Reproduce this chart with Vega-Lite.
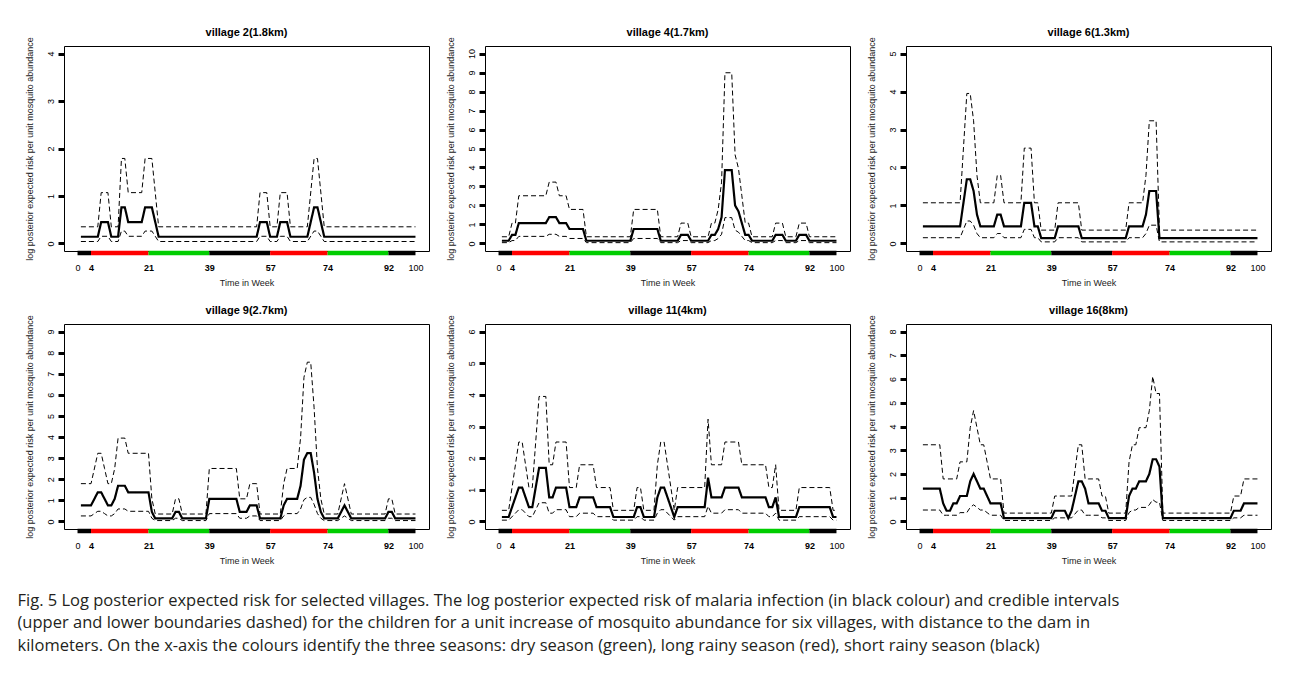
{
  "$schema": "https://vega.github.io/schema/vega-lite/v6.json",
  "padding": {"left": 17, "top": 26, "right": 10, "bottom": 5},
  "background": "white",
  "datasets": {
    "seasons": [
      {"s0": 0, "s1": 4, "season": "short rainy"},
      {"s0": 4, "s1": 21, "season": "long rainy"},
      {"s0": 21, "s1": 39, "season": "dry"},
      {"s0": 39, "s1": 57, "season": "short rainy"},
      {"s0": 57, "s1": 74, "season": "long rainy"},
      {"s0": 74, "s1": 92, "season": "dry"},
      {"s0": 92, "s1": 100, "season": "short rainy"}
    ],
    "v2": [
      {"t": 1, "m": 0.14, "u": 0.35, "l": 0.04},
      {"t": 6, "m": 0.14, "u": 0.35, "l": 0.04},
      {"t": 7, "m": 0.45, "u": 1.07, "l": 0.15},
      {"t": 9, "m": 0.45, "u": 1.07, "l": 0.15},
      {"t": 10, "m": 0.14, "u": 0.35, "l": 0.04},
      {"t": 12, "m": 0.14, "u": 0.35, "l": 0.04},
      {"t": 13, "m": 0.76, "u": 1.79, "l": 0.26},
      {"t": 14, "m": 0.76, "u": 1.79, "l": 0.26},
      {"t": 15, "m": 0.45, "u": 1.07, "l": 0.15},
      {"t": 19, "m": 0.45, "u": 1.07, "l": 0.15},
      {"t": 20, "m": 0.76, "u": 1.79, "l": 0.26},
      {"t": 22, "m": 0.76, "u": 1.79, "l": 0.26},
      {"t": 24, "m": 0.14, "u": 0.35, "l": 0.04},
      {"t": 53, "m": 0.14, "u": 0.35, "l": 0.04},
      {"t": 54, "m": 0.45, "u": 1.07, "l": 0.15},
      {"t": 56, "m": 0.45, "u": 1.07, "l": 0.15},
      {"t": 57, "m": 0.14, "u": 0.35, "l": 0.04},
      {"t": 59, "m": 0.14, "u": 0.35, "l": 0.04},
      {"t": 60, "m": 0.45, "u": 1.07, "l": 0.15},
      {"t": 62, "m": 0.45, "u": 1.07, "l": 0.15},
      {"t": 63, "m": 0.14, "u": 0.35, "l": 0.04},
      {"t": 68, "m": 0.14, "u": 0.35, "l": 0.04},
      {"t": 70, "m": 0.76, "u": 1.79, "l": 0.26},
      {"t": 71, "m": 0.76, "u": 1.79, "l": 0.26},
      {"t": 73, "m": 0.14, "u": 0.35, "l": 0.04},
      {"t": 100, "m": 0.14, "u": 0.35, "l": 0.04}
    ],
    "v4": [
      {"t": 1, "m": 0.14, "u": 0.35, "l": 0.04},
      {"t": 3, "m": 0.14, "u": 0.35, "l": 0.04},
      {"t": 4, "m": 0.45, "u": 1.07, "l": 0.15},
      {"t": 5, "m": 0.45, "u": 1.07, "l": 0.15},
      {"t": 6, "m": 1.07, "u": 2.51, "l": 0.37},
      {"t": 14, "m": 1.07, "u": 2.51, "l": 0.37},
      {"t": 15, "m": 1.38, "u": 3.23, "l": 0.48},
      {"t": 17, "m": 1.38, "u": 3.23, "l": 0.48},
      {"t": 18, "m": 1.07, "u": 2.51, "l": 0.37},
      {"t": 20, "m": 1.07, "u": 2.51, "l": 0.37},
      {"t": 21, "m": 0.76, "u": 1.79, "l": 0.26},
      {"t": 25, "m": 0.76, "u": 1.79, "l": 0.26},
      {"t": 26, "m": 0.14, "u": 0.35, "l": 0.04},
      {"t": 39, "m": 0.14, "u": 0.35, "l": 0.04},
      {"t": 40, "m": 0.76, "u": 1.79, "l": 0.26},
      {"t": 47, "m": 0.76, "u": 1.79, "l": 0.26},
      {"t": 48, "m": 0.14, "u": 0.35, "l": 0.04},
      {"t": 53, "m": 0.14, "u": 0.35, "l": 0.04},
      {"t": 54, "m": 0.45, "u": 1.07, "l": 0.15},
      {"t": 56, "m": 0.45, "u": 1.07, "l": 0.15},
      {"t": 57, "m": 0.14, "u": 0.35, "l": 0.04},
      {"t": 62, "m": 0.14, "u": 0.35, "l": 0.04},
      {"t": 63, "m": 0.45, "u": 1.07, "l": 0.15},
      {"t": 64, "m": 0.45, "u": 1.07, "l": 0.15},
      {"t": 65, "m": 0.76, "u": 1.79, "l": 0.26},
      {"t": 66, "m": 1.38, "u": 3.23, "l": 0.48},
      {"t": 67, "m": 3.86, "u": 8.99, "l": 1.36},
      {"t": 69, "m": 3.86, "u": 8.99, "l": 1.36},
      {"t": 70, "m": 2.0, "u": 4.67, "l": 0.7},
      {"t": 71, "m": 1.69, "u": 3.95, "l": 0.59},
      {"t": 72, "m": 1.07, "u": 2.51, "l": 0.37},
      {"t": 73, "m": 0.45, "u": 1.07, "l": 0.15},
      {"t": 74, "m": 0.45, "u": 1.07, "l": 0.15},
      {"t": 75, "m": 0.14, "u": 0.35, "l": 0.04},
      {"t": 81, "m": 0.14, "u": 0.35, "l": 0.04},
      {"t": 82, "m": 0.45, "u": 1.07, "l": 0.15},
      {"t": 84, "m": 0.45, "u": 1.07, "l": 0.15},
      {"t": 85, "m": 0.14, "u": 0.35, "l": 0.04},
      {"t": 88, "m": 0.14, "u": 0.35, "l": 0.04},
      {"t": 89, "m": 0.45, "u": 1.07, "l": 0.15},
      {"t": 91, "m": 0.45, "u": 1.07, "l": 0.15},
      {"t": 92, "m": 0.14, "u": 0.35, "l": 0.04},
      {"t": 100, "m": 0.14, "u": 0.35, "l": 0.04}
    ],
    "v6": [
      {"t": 1, "m": 0.45, "u": 1.07, "l": 0.15},
      {"t": 12, "m": 0.45, "u": 1.07, "l": 0.15},
      {"t": 14, "m": 1.69, "u": 3.95, "l": 0.59},
      {"t": 15, "m": 1.69, "u": 3.95, "l": 0.59},
      {"t": 16, "m": 1.38, "u": 3.23, "l": 0.48},
      {"t": 17, "m": 0.76, "u": 1.79, "l": 0.26},
      {"t": 18, "m": 0.45, "u": 1.07, "l": 0.15},
      {"t": 22, "m": 0.45, "u": 1.07, "l": 0.15},
      {"t": 23, "m": 0.76, "u": 1.79, "l": 0.26},
      {"t": 24, "m": 0.76, "u": 1.79, "l": 0.26},
      {"t": 25, "m": 0.45, "u": 1.07, "l": 0.15},
      {"t": 30, "m": 0.45, "u": 1.07, "l": 0.15},
      {"t": 31, "m": 1.07, "u": 2.51, "l": 0.37},
      {"t": 33, "m": 1.07, "u": 2.51, "l": 0.37},
      {"t": 34, "m": 0.45, "u": 1.07, "l": 0.15},
      {"t": 35, "m": 0.45, "u": 1.07, "l": 0.15},
      {"t": 36, "m": 0.14, "u": 0.35, "l": 0.04},
      {"t": 40, "m": 0.14, "u": 0.35, "l": 0.04},
      {"t": 41, "m": 0.45, "u": 1.07, "l": 0.15},
      {"t": 47, "m": 0.45, "u": 1.07, "l": 0.15},
      {"t": 48, "m": 0.14, "u": 0.35, "l": 0.04},
      {"t": 61, "m": 0.14, "u": 0.35, "l": 0.04},
      {"t": 62, "m": 0.45, "u": 1.07, "l": 0.15},
      {"t": 66, "m": 0.45, "u": 1.07, "l": 0.15},
      {"t": 67, "m": 0.76, "u": 1.79, "l": 0.26},
      {"t": 68, "m": 1.38, "u": 3.23, "l": 0.48},
      {"t": 70, "m": 1.38, "u": 3.23, "l": 0.48},
      {"t": 71, "m": 0.14, "u": 0.35, "l": 0.04},
      {"t": 100, "m": 0.14, "u": 0.35, "l": 0.04}
    ],
    "v9": [
      {"t": 1, "m": 0.76, "u": 1.79, "l": 0.26},
      {"t": 4, "m": 0.76, "u": 1.79, "l": 0.26},
      {"t": 6, "m": 1.38, "u": 3.23, "l": 0.48},
      {"t": 7, "m": 1.38, "u": 3.23, "l": 0.48},
      {"t": 8, "m": 1.07, "u": 2.51, "l": 0.37},
      {"t": 9, "m": 0.76, "u": 1.79, "l": 0.26},
      {"t": 10, "m": 0.76, "u": 1.79, "l": 0.26},
      {"t": 11, "m": 1.07, "u": 2.51, "l": 0.37},
      {"t": 12, "m": 1.69, "u": 3.95, "l": 0.59},
      {"t": 14, "m": 1.69, "u": 3.95, "l": 0.59},
      {"t": 15, "m": 1.38, "u": 3.23, "l": 0.48},
      {"t": 21, "m": 1.38, "u": 3.23, "l": 0.48},
      {"t": 22, "m": 0.45, "u": 1.07, "l": 0.15},
      {"t": 23, "m": 0.14, "u": 0.35, "l": 0.04},
      {"t": 28, "m": 0.14, "u": 0.35, "l": 0.04},
      {"t": 29, "m": 0.45, "u": 1.07, "l": 0.15},
      {"t": 30, "m": 0.45, "u": 1.07, "l": 0.15},
      {"t": 31, "m": 0.14, "u": 0.35, "l": 0.04},
      {"t": 38, "m": 0.14, "u": 0.35, "l": 0.04},
      {"t": 39, "m": 1.07, "u": 2.51, "l": 0.37},
      {"t": 47, "m": 1.07, "u": 2.51, "l": 0.37},
      {"t": 48, "m": 0.45, "u": 1.07, "l": 0.15},
      {"t": 50, "m": 0.45, "u": 1.07, "l": 0.15},
      {"t": 51, "m": 0.76, "u": 1.79, "l": 0.26},
      {"t": 53, "m": 0.76, "u": 1.79, "l": 0.26},
      {"t": 54, "m": 0.14, "u": 0.35, "l": 0.04},
      {"t": 60, "m": 0.14, "u": 0.35, "l": 0.04},
      {"t": 61, "m": 0.76, "u": 1.79, "l": 0.26},
      {"t": 62, "m": 1.07, "u": 2.51, "l": 0.37},
      {"t": 65, "m": 1.07, "u": 2.51, "l": 0.37},
      {"t": 66, "m": 1.69, "u": 3.95, "l": 0.59},
      {"t": 67, "m": 2.93, "u": 6.83, "l": 1.03},
      {"t": 68, "m": 3.24, "u": 7.55, "l": 1.14},
      {"t": 69, "m": 3.24, "u": 7.55, "l": 1.14},
      {"t": 70, "m": 2.31, "u": 5.39, "l": 0.81},
      {"t": 71, "m": 1.07, "u": 2.51, "l": 0.37},
      {"t": 72, "m": 0.45, "u": 1.07, "l": 0.15},
      {"t": 73, "m": 0.14, "u": 0.35, "l": 0.04},
      {"t": 77, "m": 0.14, "u": 0.35, "l": 0.04},
      {"t": 79, "m": 0.76, "u": 1.79, "l": 0.26},
      {"t": 81, "m": 0.14, "u": 0.35, "l": 0.04},
      {"t": 91, "m": 0.14, "u": 0.35, "l": 0.04},
      {"t": 92, "m": 0.45, "u": 1.07, "l": 0.15},
      {"t": 93, "m": 0.45, "u": 1.07, "l": 0.15},
      {"t": 94, "m": 0.14, "u": 0.35, "l": 0.04},
      {"t": 100, "m": 0.14, "u": 0.35, "l": 0.04}
    ],
    "v11": [
      {"t": 1, "m": 0.14, "u": 0.35, "l": 0.04},
      {"t": 3, "m": 0.14, "u": 0.35, "l": 0.04},
      {"t": 6, "m": 1.07, "u": 2.51, "l": 0.37},
      {"t": 7, "m": 1.07, "u": 2.51, "l": 0.37},
      {"t": 9, "m": 0.45, "u": 1.07, "l": 0.15},
      {"t": 10, "m": 0.45, "u": 1.07, "l": 0.15},
      {"t": 12, "m": 1.69, "u": 3.95, "l": 0.59},
      {"t": 14, "m": 1.69, "u": 3.95, "l": 0.59},
      {"t": 15, "m": 0.76, "u": 1.79, "l": 0.26},
      {"t": 16, "m": 0.76, "u": 1.79, "l": 0.26},
      {"t": 17, "m": 1.07, "u": 2.51, "l": 0.37},
      {"t": 20, "m": 1.07, "u": 2.51, "l": 0.37},
      {"t": 21, "m": 0.45, "u": 1.07, "l": 0.15},
      {"t": 23, "m": 0.45, "u": 1.07, "l": 0.15},
      {"t": 24, "m": 0.76, "u": 1.79, "l": 0.26},
      {"t": 28, "m": 0.76, "u": 1.79, "l": 0.26},
      {"t": 29, "m": 0.45, "u": 1.07, "l": 0.15},
      {"t": 33, "m": 0.45, "u": 1.07, "l": 0.15},
      {"t": 34, "m": 0.14, "u": 0.35, "l": 0.04},
      {"t": 40, "m": 0.14, "u": 0.35, "l": 0.04},
      {"t": 41, "m": 0.45, "u": 1.07, "l": 0.15},
      {"t": 42, "m": 0.45, "u": 1.07, "l": 0.15},
      {"t": 43, "m": 0.14, "u": 0.35, "l": 0.04},
      {"t": 46, "m": 0.14, "u": 0.35, "l": 0.04},
      {"t": 47, "m": 0.76, "u": 1.79, "l": 0.26},
      {"t": 48, "m": 1.07, "u": 2.51, "l": 0.37},
      {"t": 49, "m": 1.07, "u": 2.51, "l": 0.37},
      {"t": 52, "m": 0.14, "u": 0.35, "l": 0.04},
      {"t": 53, "m": 0.45, "u": 1.07, "l": 0.15},
      {"t": 61, "m": 0.45, "u": 1.07, "l": 0.15},
      {"t": 62, "m": 1.38, "u": 3.23, "l": 0.48},
      {"t": 63, "m": 0.76, "u": 1.79, "l": 0.26},
      {"t": 66, "m": 0.76, "u": 1.79, "l": 0.26},
      {"t": 67, "m": 1.07, "u": 2.51, "l": 0.37},
      {"t": 71, "m": 1.07, "u": 2.51, "l": 0.37},
      {"t": 72, "m": 0.76, "u": 1.79, "l": 0.26},
      {"t": 79, "m": 0.76, "u": 1.79, "l": 0.26},
      {"t": 80, "m": 0.45, "u": 1.07, "l": 0.15},
      {"t": 81, "m": 0.45, "u": 1.07, "l": 0.15},
      {"t": 82, "m": 0.76, "u": 1.79, "l": 0.26},
      {"t": 83, "m": 0.14, "u": 0.35, "l": 0.04},
      {"t": 88, "m": 0.14, "u": 0.35, "l": 0.04},
      {"t": 89, "m": 0.45, "u": 1.07, "l": 0.15},
      {"t": 98, "m": 0.45, "u": 1.07, "l": 0.15},
      {"t": 99, "m": 0.14, "u": 0.35, "l": 0.04},
      {"t": 100, "m": 0.14, "u": 0.35, "l": 0.04}
    ],
    "v16": [
      {"t": 1, "m": 1.38, "u": 3.23, "l": 0.48},
      {"t": 6, "m": 1.38, "u": 3.23, "l": 0.48},
      {"t": 7, "m": 0.76, "u": 1.79, "l": 0.26},
      {"t": 8, "m": 0.45, "u": 1.79, "l": 0.26},
      {"t": 9, "m": 0.45, "u": 1.79, "l": 0.26},
      {"t": 10, "m": 0.76, "u": 1.79, "l": 0.26},
      {"t": 11, "m": 0.76, "u": 1.79, "l": 0.26},
      {"t": 12, "m": 1.07, "u": 2.51, "l": 0.37},
      {"t": 14, "m": 1.07, "u": 2.51, "l": 0.37},
      {"t": 15, "m": 1.69, "u": 3.95, "l": 0.59},
      {"t": 16, "m": 2.0, "u": 4.67, "l": 0.7},
      {"t": 17, "m": 1.69, "u": 3.95, "l": 0.59},
      {"t": 18, "m": 1.38, "u": 3.23, "l": 0.48},
      {"t": 19, "m": 1.38, "u": 3.23, "l": 0.48},
      {"t": 20, "m": 1.07, "u": 2.51, "l": 0.37},
      {"t": 21, "m": 0.76, "u": 1.79, "l": 0.26},
      {"t": 24, "m": 0.76, "u": 1.79, "l": 0.26},
      {"t": 25, "m": 0.14, "u": 0.35, "l": 0.04},
      {"t": 39, "m": 0.14, "u": 0.35, "l": 0.04},
      {"t": 40, "m": 0.45, "u": 1.07, "l": 0.15},
      {"t": 43, "m": 0.45, "u": 1.07, "l": 0.15},
      {"t": 44, "m": 0.14, "u": 1.07, "l": 0.15},
      {"t": 45, "m": 0.45, "u": 1.07, "l": 0.15},
      {"t": 47, "m": 1.69, "u": 3.23, "l": 0.48},
      {"t": 48, "m": 1.69, "u": 3.23, "l": 0.48},
      {"t": 49, "m": 1.38, "u": 1.79, "l": 0.26},
      {"t": 50, "m": 0.76, "u": 1.79, "l": 0.26},
      {"t": 53, "m": 0.76, "u": 1.79, "l": 0.26},
      {"t": 54, "m": 0.45, "u": 1.07, "l": 0.15},
      {"t": 55, "m": 0.45, "u": 1.07, "l": 0.15},
      {"t": 56, "m": 0.14, "u": 0.35, "l": 0.04},
      {"t": 61, "m": 0.14, "u": 0.35, "l": 0.04},
      {"t": 62, "m": 1.07, "u": 2.51, "l": 0.37},
      {"t": 63, "m": 1.38, "u": 3.23, "l": 0.48},
      {"t": 64, "m": 1.38, "u": 3.23, "l": 0.48},
      {"t": 65, "m": 1.69, "u": 3.95, "l": 0.59},
      {"t": 67, "m": 1.69, "u": 3.95, "l": 0.59},
      {"t": 68, "m": 2.0, "u": 4.67, "l": 0.7},
      {"t": 69, "m": 2.62, "u": 6.11, "l": 0.92},
      {"t": 70, "m": 2.62, "u": 5.39, "l": 0.81},
      {"t": 71, "m": 2.31, "u": 5.39, "l": 0.81},
      {"t": 72, "m": 0.14, "u": 0.35, "l": 0.04},
      {"t": 92, "m": 0.14, "u": 0.35, "l": 0.04},
      {"t": 93, "m": 0.45, "u": 1.07, "l": 0.15},
      {"t": 95, "m": 0.45, "u": 1.07, "l": 0.15},
      {"t": 96, "m": 0.76, "u": 1.79, "l": 0.26},
      {"t": 100, "m": 0.76, "u": 1.79, "l": 0.26}
    ]
  },
  "title": {
    "text": [
      "Fig. 5 Log posterior expected risk for selected villages. The log posterior expected risk of malaria infection (in black colour) and credible intervals",
      "(upper and lower boundaries dashed) for the children for a unit increase of mosquito abundance for six villages, with distance to the dam in",
      "kilometers. On the x-axis the colours identify the three seasons: dry season (green), long rainy season (red), short rainy season (black)"
    ],
    "orient": "bottom",
    "anchor": "start",
    "frame": "bounds",
    "font": "Open Sans",
    "fontSize": 16.5,
    "fontWeight": "normal",
    "color": "#231f20",
    "lineHeight": 22.5,
    "offset": 27,
    "dx": -7
  },
  "columns": 3,
  "spacing": {"row": 73, "column": 56},
  "bounds": "flush",
  "concat": [
    {
      "title": "village 2(1.8km)",
      "width": 365,
      "height": 205,
      "layer": [
        {
          "data": {"name": "v2"},
          "transform": [{"fold": ["u", "l", "m"], "as": ["s", "val"]}],
          "mark": {"type": "line", "color": "black"},
          "encoding": {
            "x": {"field": "t", "type": "quantitative", "scale": {"domain": [-4, 104], "nice": false, "zero": false},
              "axis": {"values": [0, 4, 21, 39, 57, 74, 92, 100], "format": "d", "tickCount": 20, "title": "Time in Week", "labelOverlap": false, "labelFontWeight": {"condition": {"test": "datum.value == 0 || datum.value == 100", "value": "normal"}, "value": "bold"}}},
            "y": {"field": "val", "type": "quantitative", "scale": {"domain": [-0.16, 4.16], "nice": false, "zero": false},
              "axis": {"values": [0, 1, 2, 3, 4], "format": "d", "tickCount": 20, "labelOverlap": false, "title": "log posterior expected risk per unit mosquito abundance"}},
            "detail": {"field": "s"},
            "strokeWidth": {"condition": {"test": "datum.s === 'm'", "value": 2.2}, "value": 1},
            "strokeDash": {"condition": {"test": "datum.s === 'm'", "value": [1, 0]}, "value": [5, 3]}
          }
        },
        {
          "data": {"name": "seasons"},
          "mark": {"type": "rule", "strokeWidth": 4.5, "yOffset": 2},
          "encoding": {
            "x": {"field": "s0", "type": "quantitative"},
            "x2": {"field": "s1"},
            "y": {"datum": -0.16},
            "color": {"field": "season", "type": "nominal", "scale": {"domain": ["short rainy", "long rainy", "dry"], "range": ["#000000", "#ff0000", "#00cd00"]}, "legend": null}
          }
        }
      ]
    },
    {
      "title": "village 4(1.7km)",
      "width": 365,
      "height": 205,
      "layer": [
        {
          "data": {"name": "v4"},
          "transform": [{"fold": ["u", "l", "m"], "as": ["s", "val"]}],
          "mark": {"type": "line", "color": "black"},
          "encoding": {
            "x": {"field": "t", "type": "quantitative", "scale": {"domain": [-4, 104], "nice": false, "zero": false},
              "axis": {"values": [0, 4, 21, 39, 57, 74, 92, 100], "format": "d", "tickCount": 20, "title": "Time in Week", "labelOverlap": false, "labelFontWeight": {"condition": {"test": "datum.value == 0 || datum.value == 100", "value": "normal"}, "value": "bold"}}},
            "y": {"field": "val", "type": "quantitative", "scale": {"domain": [-0.4, 10.4], "nice": false, "zero": false},
              "axis": {"values": [0, 1, 2, 3, 4, 5, 6, 7, 8, 9, 10], "format": "d", "tickCount": 20, "labelOverlap": false, "title": "log posterior expected risk per unit mosquito abundance"}},
            "detail": {"field": "s"},
            "strokeWidth": {"condition": {"test": "datum.s === 'm'", "value": 2.2}, "value": 1},
            "strokeDash": {"condition": {"test": "datum.s === 'm'", "value": [1, 0]}, "value": [5, 3]}
          }
        },
        {
          "data": {"name": "seasons"},
          "mark": {"type": "rule", "strokeWidth": 4.5, "yOffset": 2},
          "encoding": {
            "x": {"field": "s0", "type": "quantitative"},
            "x2": {"field": "s1"},
            "y": {"datum": -0.4},
            "color": {"field": "season", "type": "nominal", "scale": {"domain": ["short rainy", "long rainy", "dry"], "range": ["#000000", "#ff0000", "#00cd00"]}, "legend": null}
          }
        }
      ]
    },
    {
      "title": "village 6(1.3km)",
      "width": 365,
      "height": 205,
      "layer": [
        {
          "data": {"name": "v6"},
          "transform": [{"fold": ["u", "l", "m"], "as": ["s", "val"]}],
          "mark": {"type": "line", "color": "black"},
          "encoding": {
            "x": {"field": "t", "type": "quantitative", "scale": {"domain": [-4, 104], "nice": false, "zero": false},
              "axis": {"values": [0, 4, 21, 39, 57, 74, 92, 100], "format": "d", "tickCount": 20, "title": "Time in Week", "labelOverlap": false, "labelFontWeight": {"condition": {"test": "datum.value == 0 || datum.value == 100", "value": "normal"}, "value": "bold"}}},
            "y": {"field": "val", "type": "quantitative", "scale": {"domain": [-0.2, 5.2], "nice": false, "zero": false},
              "axis": {"values": [0, 1, 2, 3, 4, 5], "format": "d", "tickCount": 20, "labelOverlap": false, "title": "log posterior expected risk per unit mosquito abundance"}},
            "detail": {"field": "s"},
            "strokeWidth": {"condition": {"test": "datum.s === 'm'", "value": 2.2}, "value": 1},
            "strokeDash": {"condition": {"test": "datum.s === 'm'", "value": [1, 0]}, "value": [5, 3]}
          }
        },
        {
          "data": {"name": "seasons"},
          "mark": {"type": "rule", "strokeWidth": 4.5, "yOffset": 2},
          "encoding": {
            "x": {"field": "s0", "type": "quantitative"},
            "x2": {"field": "s1"},
            "y": {"datum": -0.2},
            "color": {"field": "season", "type": "nominal", "scale": {"domain": ["short rainy", "long rainy", "dry"], "range": ["#000000", "#ff0000", "#00cd00"]}, "legend": null}
          }
        }
      ]
    },
    {
      "title": "village 9(2.7km)",
      "width": 365,
      "height": 205,
      "layer": [
        {
          "data": {"name": "v9"},
          "transform": [{"fold": ["u", "l", "m"], "as": ["s", "val"]}],
          "mark": {"type": "line", "color": "black"},
          "encoding": {
            "x": {"field": "t", "type": "quantitative", "scale": {"domain": [-4, 104], "nice": false, "zero": false},
              "axis": {"values": [0, 4, 21, 39, 57, 74, 92, 100], "format": "d", "tickCount": 20, "title": "Time in Week", "labelOverlap": false, "labelFontWeight": {"condition": {"test": "datum.value == 0 || datum.value == 100", "value": "normal"}, "value": "bold"}}},
            "y": {"field": "val", "type": "quantitative", "scale": {"domain": [-0.36, 9.36], "nice": false, "zero": false},
              "axis": {"values": [0, 1, 2, 3, 4, 5, 6, 7, 8, 9], "format": "d", "tickCount": 20, "labelOverlap": false, "title": "log posterior expected risk per unit mosquito abundance"}},
            "detail": {"field": "s"},
            "strokeWidth": {"condition": {"test": "datum.s === 'm'", "value": 2.2}, "value": 1},
            "strokeDash": {"condition": {"test": "datum.s === 'm'", "value": [1, 0]}, "value": [5, 3]}
          }
        },
        {
          "data": {"name": "seasons"},
          "mark": {"type": "rule", "strokeWidth": 4.5, "yOffset": 2},
          "encoding": {
            "x": {"field": "s0", "type": "quantitative"},
            "x2": {"field": "s1"},
            "y": {"datum": -0.36},
            "color": {"field": "season", "type": "nominal", "scale": {"domain": ["short rainy", "long rainy", "dry"], "range": ["#000000", "#ff0000", "#00cd00"]}, "legend": null}
          }
        }
      ]
    },
    {
      "title": "village 11(4km)",
      "width": 365,
      "height": 205,
      "layer": [
        {
          "data": {"name": "v11"},
          "transform": [{"fold": ["u", "l", "m"], "as": ["s", "val"]}],
          "mark": {"type": "line", "color": "black"},
          "encoding": {
            "x": {"field": "t", "type": "quantitative", "scale": {"domain": [-4, 104], "nice": false, "zero": false},
              "axis": {"values": [0, 4, 21, 39, 57, 74, 92, 100], "format": "d", "tickCount": 20, "title": "Time in Week", "labelOverlap": false, "labelFontWeight": {"condition": {"test": "datum.value == 0 || datum.value == 100", "value": "normal"}, "value": "bold"}}},
            "y": {"field": "val", "type": "quantitative", "scale": {"domain": [-0.24, 6.24], "nice": false, "zero": false},
              "axis": {"values": [0, 1, 2, 3, 4, 5, 6], "format": "d", "tickCount": 20, "labelOverlap": false, "title": "log posterior expected risk per unit mosquito abundance"}},
            "detail": {"field": "s"},
            "strokeWidth": {"condition": {"test": "datum.s === 'm'", "value": 2.2}, "value": 1},
            "strokeDash": {"condition": {"test": "datum.s === 'm'", "value": [1, 0]}, "value": [5, 3]}
          }
        },
        {
          "data": {"name": "seasons"},
          "mark": {"type": "rule", "strokeWidth": 4.5, "yOffset": 2},
          "encoding": {
            "x": {"field": "s0", "type": "quantitative"},
            "x2": {"field": "s1"},
            "y": {"datum": -0.24},
            "color": {"field": "season", "type": "nominal", "scale": {"domain": ["short rainy", "long rainy", "dry"], "range": ["#000000", "#ff0000", "#00cd00"]}, "legend": null}
          }
        }
      ]
    },
    {
      "title": "village 16(8km)",
      "width": 365,
      "height": 205,
      "layer": [
        {
          "data": {"name": "v16"},
          "transform": [{"fold": ["u", "l", "m"], "as": ["s", "val"]}],
          "mark": {"type": "line", "color": "black"},
          "encoding": {
            "x": {"field": "t", "type": "quantitative", "scale": {"domain": [-4, 104], "nice": false, "zero": false},
              "axis": {"values": [0, 4, 21, 39, 57, 74, 92, 100], "format": "d", "tickCount": 20, "title": "Time in Week", "labelOverlap": false, "labelFontWeight": {"condition": {"test": "datum.value == 0 || datum.value == 100", "value": "normal"}, "value": "bold"}}},
            "y": {"field": "val", "type": "quantitative", "scale": {"domain": [-0.32, 8.32], "nice": false, "zero": false},
              "axis": {"values": [0, 1, 2, 3, 4, 5, 6, 7, 8], "format": "d", "tickCount": 20, "labelOverlap": false, "title": "log posterior expected risk per unit mosquito abundance"}},
            "detail": {"field": "s"},
            "strokeWidth": {"condition": {"test": "datum.s === 'm'", "value": 2.2}, "value": 1},
            "strokeDash": {"condition": {"test": "datum.s === 'm'", "value": [1, 0]}, "value": [5, 3]}
          }
        },
        {
          "data": {"name": "seasons"},
          "mark": {"type": "rule", "strokeWidth": 4.5, "yOffset": 2},
          "encoding": {
            "x": {"field": "s0", "type": "quantitative"},
            "x2": {"field": "s1"},
            "y": {"datum": -0.32},
            "color": {"field": "season", "type": "nominal", "scale": {"domain": ["short rainy", "long rainy", "dry"], "range": ["#000000", "#ff0000", "#00cd00"]}, "legend": null}
          }
        }
      ]
    }
  ],
  "config": {
    "font": "Liberation Sans",
    "view": {"stroke": "black", "strokeWidth": 1},
    "axis": {"grid": false, "labelFont": "Liberation Sans", "titleFont": "Liberation Sans", "labelFontSize": 9, "titleFontSize": 9, "titleFontWeight": "normal", "labelColor": "black", "titleColor": "#222222", "labelFlush": false, "labelOverlap": false},
    "axisX": {"domain": false, "ticks": false, "labelPadding": 12, "titlePadding": 6},
    "axisY": {"domain": false, "tickSize": 6, "tickWidth": 3, "tickColor": "black", "labelAngle": 270, "labelAlign": "center", "labelBaseline": "alphabetic", "labelPadding": 5, "titlePadding": 12},
    "title": {"fontSize": 11, "fontWeight": "bold", "offset": -1, "frame": "group", "color": "black", "font": "Liberation Sans"}
  }
}
